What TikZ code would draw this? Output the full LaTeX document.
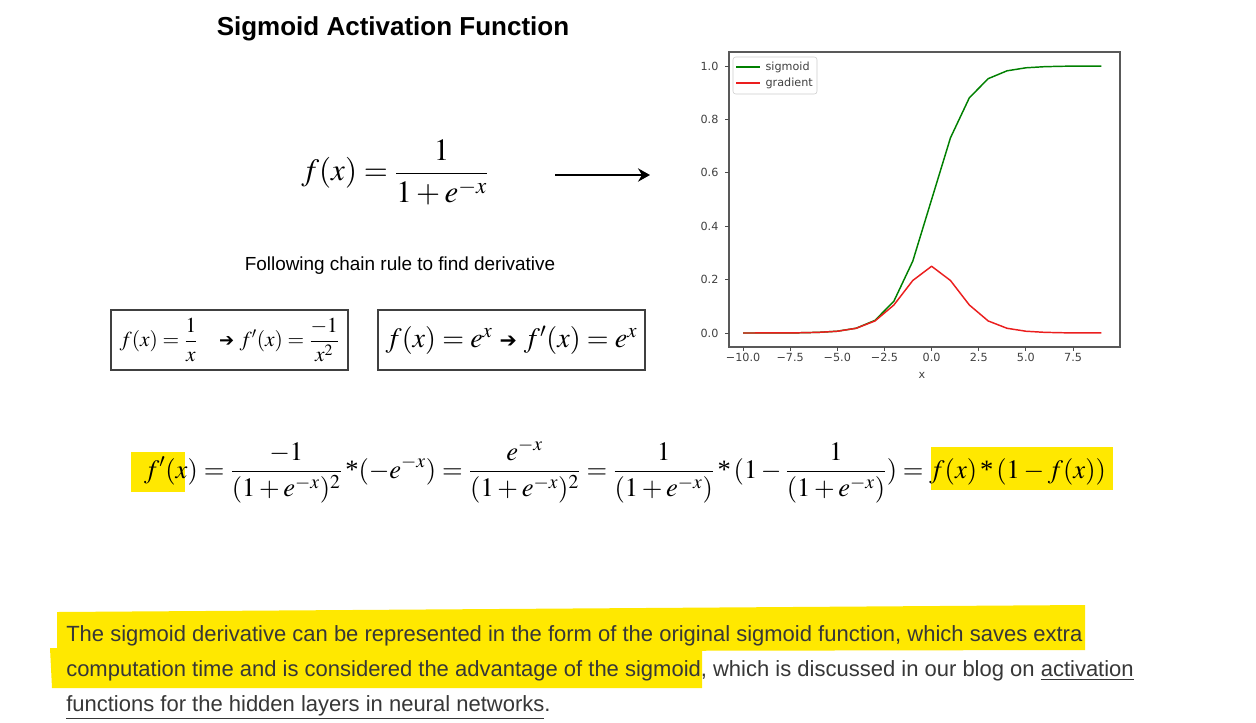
\documentclass[tikz,border=0pt]{standalone}
\usepackage{mathptmx}
\usepackage{fontspec}
\setmainfont{Liberation Serif}
\newfontfamily\sans{Liberation Sans}
\newfontfamily\dejavu{DejaVu Sans}
\usetikzlibrary{arrows.meta}
\definecolor{hl}{RGB}{255,232,0}
\definecolor{txt}{RGB}{55,55,55}
\definecolor{sgreen}{RGB}{0,128,0}
\definecolor{sred}{RGB}{235,30,30}
\tikzset{
  para/.style={anchor=base west, font=\sans\fontsize{16.5}{19}\selectfont, text=txt, inner sep=0pt},
  ticklab/.style={font=\dejavu\fontsize{8.4}{10}\selectfont, text=black!75, inner sep=1pt},
  tickmark/.style={black!70, line width=0.6pt},
  fbox/.style={draw=black!75, line width=0.8pt, inner sep=0pt},
  curve/.style={line width=1.1pt, line join=round},
}
\begin{document}
\begin{tikzpicture}[x=0.75pt,y=-0.75pt]
\useasboundingbox (0,0) rectangle (1256,722);
\fill[white] (0,0) rectangle (1256,722);

% highlights
\fill[hl] (131,452) rectangle (185,492);
\fill[hl] (931,447) rectangle (1113,490);
\fill[hl] (57,612) -- (1085,605) -- (1085,650) -- (57,652) -- cycle;
\fill[hl] (50,648) -- (702,648) -- (702,688) -- (52,688) -- cycle;

% title
\node[font=\sans\bfseries\fontsize{19.5}{23}\selectfont] (title) at (393,29) {Sigmoid Activation Function};

% sigmoid formula
\node (sig) at (395,172) {\fontsize{23.2}{27}\selectfont $\displaystyle f(x)=\frac{1}{1+e^{-x}}$};
\coordinate (a1) at (555,175);
\coordinate (a2) at (650,175);
\draw[line width=2.2pt, -{Stealth[length=9pt,width=10pt,inset=3pt]}] (a1) -- (a2);

% chain rule
\node[font=\sans\fontsize{14.2}{17}\selectfont] (chain) at (400,266) {Following chain rule to find derivative};

% boxes
\node[fbox, minimum width=177.75pt, minimum height=45pt] (b1) at (229.5,340)
  {\fontsize{16}{19}\selectfont $\displaystyle f(x)=\frac{1}{x}$\quad{\dejavu\fontsize{13.5}{15}\selectfont ➔}\ $\displaystyle f'(x)=\frac{-1}{x^2}$};
\node[fbox, minimum width=200.25pt, minimum height=45pt] (b2) at (511.5,340)
  {\fontsize{21}{25}\selectfont $f(x)=e^x$ {\dejavu\fontsize{15.5}{17}\selectfont ➔} $f'(x)=e^x$};

% plot
\coordinate (pbl) at (729,347);
\coordinate (ptr) at (1120,52);
\draw[black!65, line width=0.8pt] (pbl) rectangle (ptr);
\foreach \v/\l in {0/0.0,0.2/0.2,0.4/0.4,0.6/0.6,0.8/0.8,1/1.0}{
  \draw[tickmark] (729,333-267*\v) -- (725,333-267*\v);
  \node[ticklab, anchor=east] at (720,333-267*\v) {\l};
}
\foreach \u/\l in {-10/−10.0,-7.5/−7.5,-5/−5.0,-2.5/−2.5,0/0.0,2.5/2.5,5/5.0,7.5/7.5}{
  \draw[tickmark] (931.6+18.857*\u,347) -- (931.6+18.857*\u,351);
  \node[ticklab, anchor=north] at (931.6+18.857*\u,352) {\l};
}
\node[ticklab] (xl) at (922,375) {x};
\begin{scope}[shift={(931.6,333)}, x=14.143pt, y=200.25pt]
\draw[sgreen, curve] plot coordinates {(-10,0.0000454) (-9,0.000123) (-8,0.000335) (-7,0.000911) (-6,0.00247) (-5,0.00669) (-4,0.01799) (-3,0.04743) (-2,0.1192) (-1,0.2689) (0,0.5) (1,0.7311) (2,0.8808) (3,0.9526) (4,0.9820) (5,0.9933) (6,0.9975) (7,0.9991) (8,0.99966) (9,0.99988)};
\draw[sred, curve] plot coordinates {(-10,0.0000454) (-9,0.000123) (-8,0.000335) (-7,0.00091) (-6,0.00247) (-5,0.00665) (-4,0.01766) (-3,0.04518) (-2,0.10499) (-1,0.19661) (0,0.25) (1,0.19661) (2,0.10499) (3,0.04518) (4,0.01766) (5,0.00665) (6,0.00247) (7,0.00091) (8,0.000335) (9,0.000123)};
\end{scope}
% legend
\draw[black!20, rounded corners=2pt, fill=white] (733,57) rectangle (817,94);
\coordinate (lg1a) at (736,67); \coordinate (lg1b) at (760,67);
\coordinate (lg2a) at (736,83); \coordinate (lg2b) at (760,83);
\draw[sgreen, curve] (lg1a) -- (lg1b);
\draw[sred, curve] (lg2a) -- (lg2b);
\node[ticklab, anchor=west] (lsig) at (764,67) {sigmoid};
\node[ticklab, anchor=west] (lgrad) at (764,83) {gradient};

% derivative equation
\node (deriv) at (625,471) {\fontsize{19.9}{24}\selectfont $\displaystyle f'(x)=\frac{-1}{(1+e^{-x})^2}\,\mbox{*}(-e^{-x})=\frac{e^{-x}}{(1+e^{-x})^2}=\frac{1}{(1+e^{-x})}\,\mbox{*}\,(1-\frac{1}{(1+e^{-x})})=f(x)\,\mbox{*}\,(1-f(x))$};

% paragraph
\node[para] (p1) at (66,641) {The sigmoid derivative can be represented in the form of the original sigmoid function, which saves extra};
\node[para] (p2) at (66,676) {computation time and is considered the advantage of the sigmoid, which is discussed in our blog on \underline{activation}};
\node[para] (p3) at (66,711) {\underline{functions for the hidden layers in neural networks}.};
\end{tikzpicture}
\end{document}
